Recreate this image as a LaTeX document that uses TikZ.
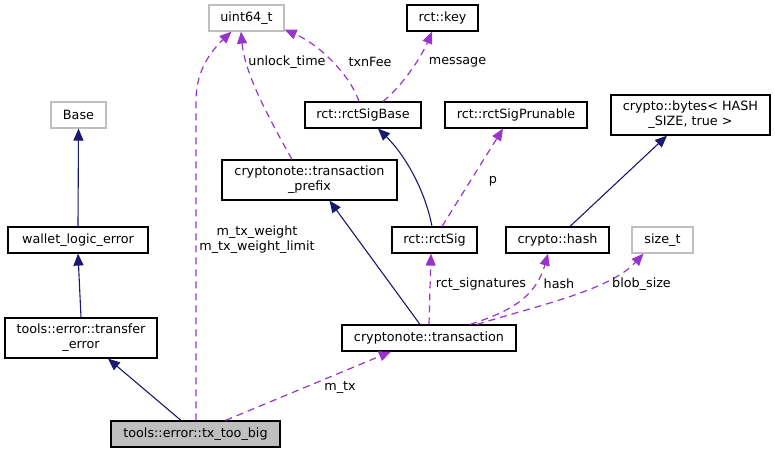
\documentclass[tikz,border=0pt]{standalone}
\usepackage{fontspec}
\setmainfont{DejaVu Sans}
\usetikzlibrary{arrows.meta,calc}
\definecolor{edgeblue}{HTML}{191970}
\definecolor{edgepurple}{HTML}{9A32CD}
\definecolor{graybox}{HTML}{BFBFBF}
\begin{document}
\begin{tikzpicture}[x=1pt,y=-1pt,font=\fontsize{12.75}{15}\selectfont,
  box/.style={draw=black, line width=1.2pt, fill=white, inner sep=0pt, minimum height=26pt, align=center},
  ghost/.style={box, draw=graybox},
  tall/.style={minimum height=40pt},
  inh/.style={draw=edgeblue, line width=1.1pt, -{Triangle[length=12pt,width=10pt]}},
  use/.style={draw=edgepurple, line width=1.2pt, dash pattern=on 7pt off 5pt, -{Triangle[length=12pt,width=10pt]}},
  lbl/.style={align=center, inner sep=0pt}]
\useasboundingbox (0,0) rectangle (775,453);
% nodes
\node[ghost, minimum width=75pt] (uint) at (246.5,18) {uint64\_t};
\node[box, minimum width=71pt] (key) at (442.5,18) {rct::key};
\node[ghost, minimum width=55pt] (base) at (78.5,115) {Base};
\node[box, minimum width=116pt] (sigbase) at (363,115) {rct::rctSigBase};
\node[box, minimum width=142pt] (prunable) at (516,115) {rct::rctSigPrunable};
\node[box, tall, minimum width=159pt] (bytes) at (690.5,115) {crypto::bytes< HASH\\\_SIZE, true >};
\node[box, tall, minimum width=175pt] (prefix) at (309.5,180) {cryptonote::transaction\\\_prefix};
\node[box, minimum width=140pt] (wallet) at (78,240) {wallet\_logic\_error};
\node[box, minimum width=85pt] (rctsig) at (434.5,240) {rct::rctSig};
\node[box, minimum width=103pt] (hash) at (557.5,240) {crypto::hash};
\node[ghost, minimum width=61pt] (sizet) at (662.5,240) {size\_t};
\node[box, tall, minimum width=152pt] (transfer) at (81,338) {tools::error::transfer\\\_error};
\node[box, minimum width=174pt] (trans) at (429,338) {cryptonote::transaction};
\node[box, fill=graybox, minimum width=169pt] (toobig) at (195.5,434) {tools::error::tx\_too\_big};
% inheritance edges
\draw[inh] (wallet.north) -- (base.south);
\draw[inh] (transfer.north) -- (wallet.south);
\draw[inh] ($(toobig.north)+(-14.5,0)$) -- ($(transfer.south)+(27,0)$);
\draw[inh] ($(trans.north)+(-9,0)$) -- ($(prefix.south)+(20,0)$);
\draw[inh] ($(rctsig.north)+(-2.5,0)$) .. controls (425,190) and (405,155) .. ($(sigbase.south)+(15,0)$);
\draw[inh] ($(hash.north)+(12.5,0)$) -- ($(bytes.south)+(-23.5,0)$);
% usage edges
\draw[use] ($(toobig.north)+(0.5,0)$) -- (196,100) .. controls (196,70) and (212,50) .. ($(uint.south)+(-15,0)$);
\draw[use] ($(toobig.north)+(30,0)$) -- ($(trans.south)+(-38,0)$);
\draw[use] ($(prefix.north)+(-17.5,0)$) .. controls (270,120) and (245,75) .. ($(uint.south)+(-5.5,0)$);
\draw[use] ($(sigbase.north)+(-4,0)$) .. controls (350,75) and (320,45) .. ($(uint.south east)+(0,-2)$);
\draw[use] ($(sigbase.north)+(20,0)$) .. controls (400,88) and (420,60) .. ($(key.south)+(-10.5,0)$);
\draw[use] ($(rctsig.north)+(7.5,0)$) -- ($(prunable.south)+(-13,0)$);
\draw[use] (trans.north) -- ($(rctsig.south)+(-3.5,0)$);
\draw[use] ($(trans.north)+(41,0)$) .. controls (505,313) and (535,300) .. ($(hash.south)+(-9.5,0)$);
\draw[use] ($(trans.north)+(48,0)$) .. controls (540,305) and (610,290) .. ($(sizet.south)+(-19,0)$);
% labels
\node[lbl] (l1) at (257,240) {m\_tx\_weight\\m\_tx\_weight\_limit};
\node[lbl] (l2) at (340,388) {m\_tx};
\node[lbl] (l3) at (287,62) {unlock\_time};
\node[lbl] (l4) at (370,62) {txnFee};
\node[lbl] (l5) at (457.5,62) {message};
\node[lbl] (l6) at (493,181) {p};
\node[lbl] (l7) at (481,284) {rct\_signatures};
\node[lbl] (l8) at (559,284) {hash};
\node[lbl] (l9) at (641.5,284) {blob\_size};
\end{tikzpicture}
\end{document}
